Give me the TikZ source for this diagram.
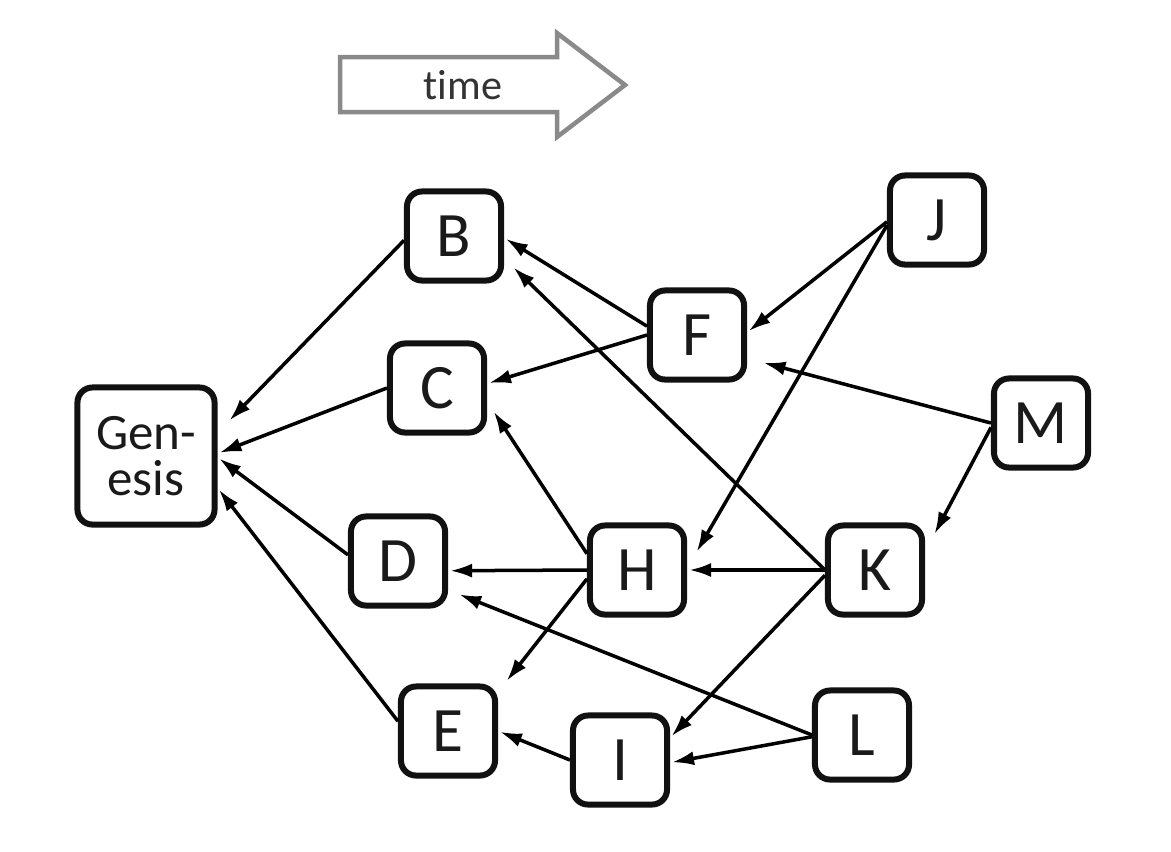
\documentclass[tikz,border=0pt]{standalone}
\usepackage{fontspec}
\setmainfont{Carlito}[Ligatures=NoCommon]
\usepackage{xcolor}
\usepackage{tikz}
\usetikzlibrary{arrows.meta}
\definecolor{boxstroke}{HTML}{111111}
\definecolor{boxtext}{HTML}{1a1a1a}
\definecolor{timestroke}{HTML}{8a8a8a}
\definecolor{timetext}{HTML}{333333}
\tikzset{
  blk/.style={draw=boxstroke, fill=white, line width=0.06cm, rounded corners=0.15cm,
              minimum width=0.94cm, minimum height=0.89cm, inner sep=0pt,
              text=boxtext, font=\fontsize{18}{18}\selectfont},
  genblk/.style={blk, minimum width=1.37cm, minimum height=1.37cm, align=center,
                 font=\fontsize{14.5}{13}\selectfont},
  ref/.style={-{Latex[length=0.22cm,width=0.14cm]}, line width=0.035cm,
              shorten >=0.02cm},
  timearrow/.style={draw=timestroke, line width=0.045cm, fill=white, line join=miter}
}

\begin{document}
\begin{tikzpicture}[x=0.01cm, y=-0.01cm]
  \path[use as bounding box] (0,0) rectangle (1171,851);

  % --- time arrow ---
  \draw[timearrow] (340,57) -- (557,57) -- (557,33) -- (625,85)
    -- (557,137) -- (557,112) -- (340,112) -- cycle;
  \node[font=\fontsize{12}{12}\selectfont, text=timetext] (time) at (463,85) {time};

  % --- blocks ---
  \node[genblk] (gen) at (146,456) {Gen-\\esis};
  \node[blk] (B) at (454,236) {B};
  \node[blk] (C) at (437,388) {C};
  \node[blk] (D) at (398,561) {D};
  \node[blk] (E) at (448,731) {E};
  \node[blk] (F) at (697,335) {F};
  \node[blk] (H) at (637,570) {H};
  \node[blk] (I) at (620,760) {I};
  \node[blk] (J) at (937,220) {J};
  \node[blk] (K) at (875,570) {K};
  \node[blk] (L) at (862,735) {L};
  \node[blk] (M) at (1041,423) {M};

  % --- links back to genesis ---
  \draw[ref, shorten >=0.17cm] (B.185) -- (gen.18);
  \draw[ref] (C.west) -- (gen.2);
  \draw[ref] (D.173) -- (gen.-1);
  \draw[ref] (E.169) -- (gen.-24);

  % --- from F, J, M ---
  \draw[ref] (F.170) -- (B.-2);
  \draw[ref] (F.west) -- (C.5);
  \draw[ref] (J.182) -- (F.3);
  \draw[ref, shorten >=0.19cm] (J.186) -- (H.2);
  \draw[ref, shorten >=0.17cm] (M.west) -- (F.-25);
  \draw[ref, shorten >=0.2cm] (M.185) -- (K.20);

  % --- from H ---
  \draw[ref, shorten >=0.12cm] (H.162) -- (C.-15);
  \draw[ref] (H.west) -- (D.-11);
  \draw[ref, shorten >=0.14cm] (H.190) -- (E.38);

  % --- from K, L, I ---
  \draw[ref] (K.west) -- (H.east);
  \draw[ref, shorten >=0.13cm] (K.west) -- (B.-24);
  \draw[ref] (K.186) -- (I.24);
  \draw[ref, shorten >=0.12cm] (L.west) -- (D.-30);
  \draw[ref] (L.182) -- (I.-3);
  \draw[ref] (I.west) -- (E.east);

\end{tikzpicture}
\end{document}
